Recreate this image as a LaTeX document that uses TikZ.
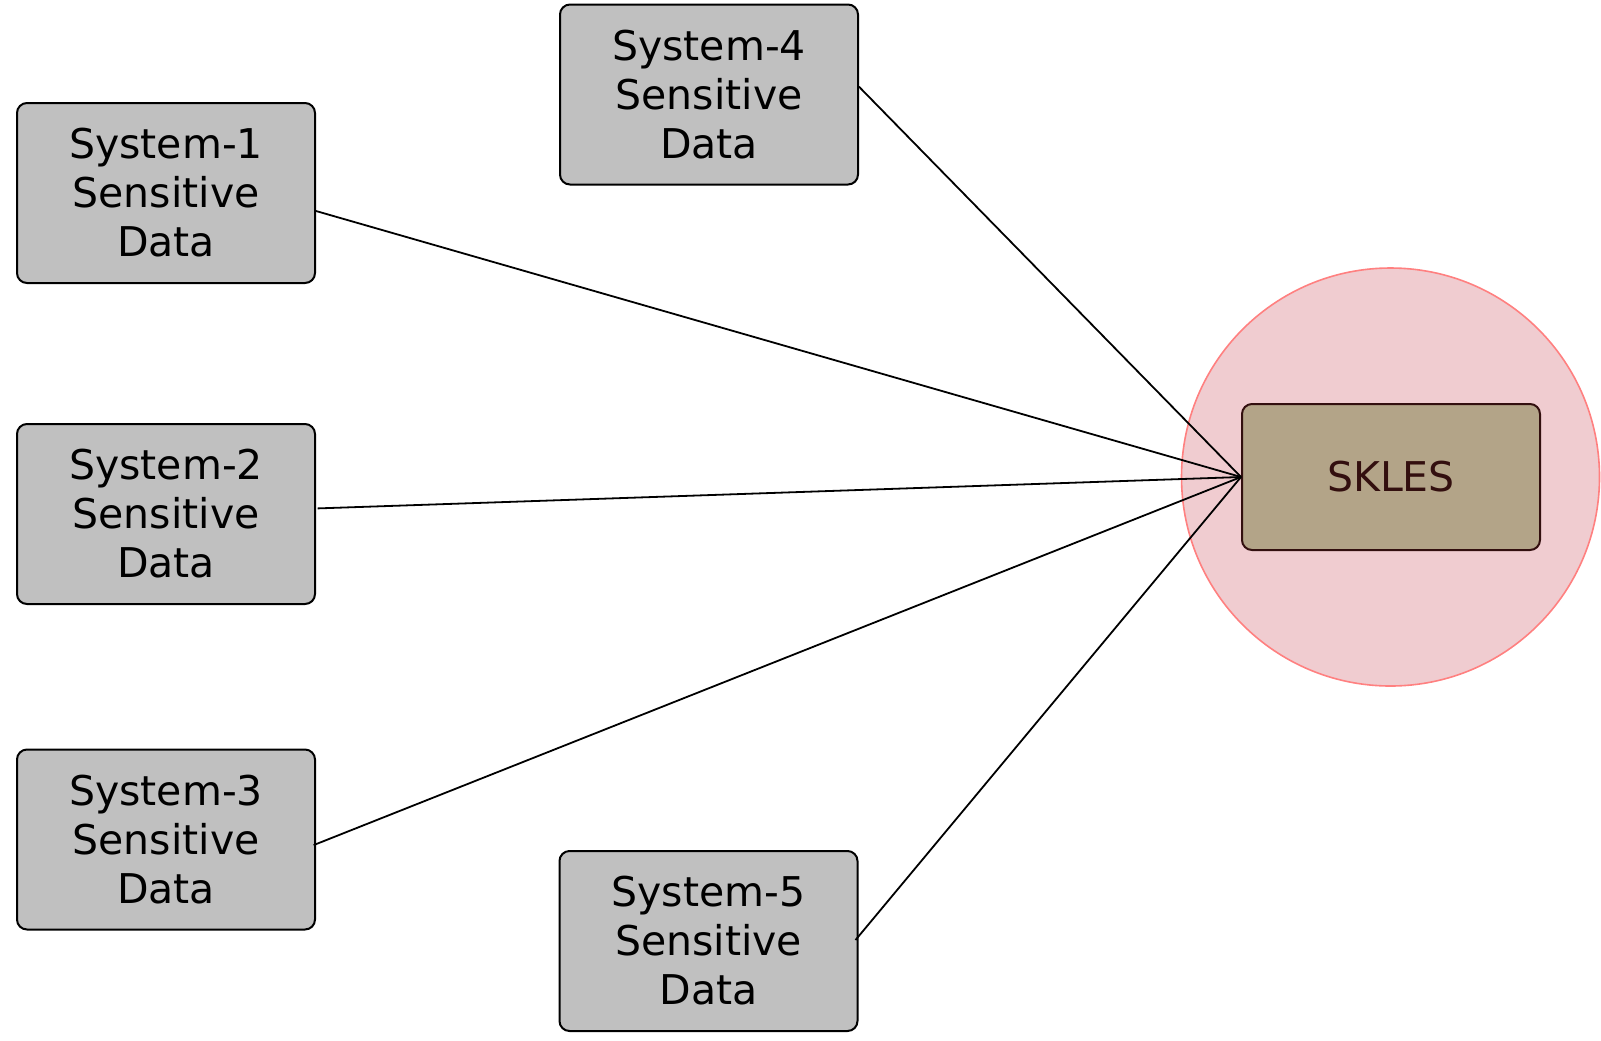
\documentclass[tikz,border=0pt]{standalone}
\usepackage{fontspec}
\setmainfont{DejaVu Sans}
\usetikzlibrary{positioning, calc, shapes}

\definecolor{boxgray}{HTML}{C0C0C0}
\definecolor{ringfill}{HTML}{F0CCD0}
\definecolor{ringline}{HTML}{FF8080}
\definecolor{sklesfill}{HTML}{B3A488}
\definecolor{sklesline}{HTML}{330F0F}

\begin{document}
\begin{tikzpicture}[x=0.5pt, y=-0.5pt,
	sysbox/.style={rectangle, draw, line width=1pt, fill=boxgray, rounded corners=5pt,
	minimum width=149pt, minimum height=90pt, align=center, inner sep=0pt,
	font=\fontsize{20.5pt}{24.5pt}\selectfont},
	link/.style={line width=0.9pt}]
		
		\useasboundingbox (0,0) rectangle (1601,1040);
		
		%Nodes
		\node (ring) at (1390.5,477) [circle, draw=ringline, line width=0.8pt, fill=ringfill, 
		minimum size=209pt, inner sep=0pt]{};
		
		\node (sys1) at (166,193) [sysbox]{System-1 \\ Sensitive \\ Data};
		\node (sys2) at (166,514) [sysbox]{System-2 \\ Sensitive \\ Data};
		\node (sys3) at (166,839.5) [sysbox]{System-3 \\ Sensitive \\ Data};
		\node (sys4) at (709,94.5) [sysbox]{System-4 \\ Sensitive \\ Data};
		\node (sys5) at (708.5,941) [sysbox]{System-5 \\ Sensitive \\ Data};
		
		\node (skles) at (1391,477) [rectangle, draw=sklesline, line width=1pt, fill=sklesfill, 
		rounded corners=5pt, minimum width=149pt, minimum height=73pt, text=sklesline,
		font=\fontsize{20.5pt}{24.5pt}\selectfont]{SKLES};
		
		%Links
		\draw[link] ([yshift=-9pt]sys1.east) -- (skles.west);
		\draw[link] ([xshift=0.8pt, yshift=2.8pt]sys2.east) -- (skles.west);
		\draw[link] ([xshift=-1.2pt, yshift=-2.8pt]sys3.east) -- (skles.west);
		\draw[link] ([yshift=3.9pt]sys4.east) -- (skles.west);
		\draw[link] ([xshift=-1.5pt, yshift=0.5pt]sys5.east) -- (skles.west);
		
		\end{tikzpicture}
\end{document}
